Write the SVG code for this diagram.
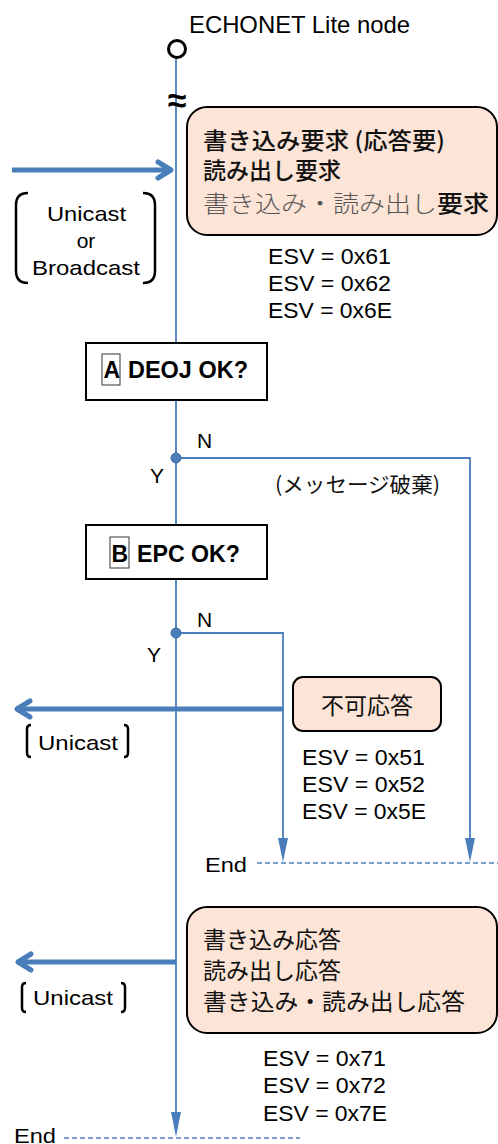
<svg xmlns="http://www.w3.org/2000/svg" width="498" height="1144" viewBox="0 0 498 1144">
<style>
.t{font-family:"Liberation Sans","Noto Sans CJK JP",sans-serif;fill:#000}
.j{font-family:"Noto Sans CJK JP","Liberation Sans",sans-serif;fill:#111}
.box{fill:#FCE4D6;stroke:#000;stroke-width:2}
.dbox{fill:#fff;stroke:#000;stroke-width:2}
.ln{fill:none;stroke:#4A7EBB;stroke-width:1.8}
.thick{fill:none;stroke:#4A7EBB;stroke-width:5}
.dash{fill:none;stroke:#4A7EBB;stroke-width:1.5;stroke-dasharray:5,3}
.br{fill:none;stroke:#000;stroke-width:2.5}
.head{fill:#4A7EBB}
</style>
<defs>
<marker id="chev" markerWidth="22" markerHeight="22" refX="20" refY="11" orient="auto" markerUnits="userSpaceOnUse" viewBox="0 0 22 22">
<path d="M6,3 L19,11 L6,19" fill="none" stroke="#4A7EBB" stroke-width="5" stroke-linecap="round" stroke-linejoin="round"/>
</marker>
</defs>

<g id="connectors">
<line class="ln" x1="176" y1="58" x2="176" y2="343"/>
<line class="ln" x1="176" y1="400" x2="176" y2="525"/>
<line class="ln" x1="176" y1="579" x2="176" y2="1114"/>
<path class="head" d="M171,1112 L181,1112 L176,1137 Z"/>
<path class="ln" d="M176,458 H470 V840"/>
<path class="head" d="M465,838 L475,838 L470,862 Z"/>
<path class="ln" d="M176,633 H283 V840"/>
<path class="head" d="M278,838 L288,838 L283,862 Z"/>
<line class="dash" x1="257" y1="863" x2="498" y2="863"/>
<line class="dash" x1="64" y1="1138" x2="300" y2="1138"/>
<line class="thick" x1="12" y1="170" x2="172" y2="170" marker-end="url(#chev)"/>
<line class="thick" x1="283" y1="709" x2="16" y2="709" marker-end="url(#chev)"/>
<line class="thick" x1="176" y1="962" x2="17" y2="962" marker-end="url(#chev)"/>
<circle cx="176" cy="458" r="5" fill="#4A7EBB" stroke="#3A6AA5" stroke-width="1"/>
<circle cx="176" cy="633" r="5" fill="#4A7EBB" stroke="#3A6AA5" stroke-width="1"/>
</g>

<g id="node-start">
<circle cx="177" cy="49" r="8.5" fill="#fff" stroke="#000" stroke-width="3"/>
<text class="t" x="189" y="33" font-size="24" textLength="221" lengthAdjust="spacingAndGlyphs">ECHONET Lite node</text>
<text class="t" x="177" y="112" font-size="34" font-weight="bold" text-anchor="middle">≈</text>
</g>

<g id="node-request">
<rect class="box" x="187" y="107" width="310" height="128" rx="20"/>
<text class="j" x="203" y="149" font-size="23" font-weight="500" textLength="242" lengthAdjust="spacingAndGlyphs">書き込み要求 (応答要)</text>
<text class="j" x="203" y="179" font-size="23" font-weight="500">読み出し要求</text>
<text class="j" x="203" y="212" font-size="23" textLength="286" lengthAdjust="spacingAndGlyphs"><tspan fill="#555" font-weight="300">書き込み・読み出し</tspan><tspan font-weight="500">要求</tspan></text>
</g>

<g id="node-unicast-broadcast">
<path class="br" d="M28,193 Q16,193 16,205 L16,271 Q16,283 28,283"/>
<path class="br" d="M143,193 Q155,193 155,205 L155,271 Q155,283 143,283"/>
<text class="t" x="47" y="221" font-size="21" textLength="79" lengthAdjust="spacingAndGlyphs">Unicast</text>
<text class="t" x="86" y="248" font-size="21" text-anchor="middle">or</text>
<text class="t" x="32" y="275" font-size="21" textLength="108" lengthAdjust="spacingAndGlyphs">Broadcast</text>
</g>

<g id="esv-request">
<text class="t" x="268" y="264" font-size="22" textLength="123" lengthAdjust="spacingAndGlyphs">ESV = 0x61</text>
<text class="t" x="268" y="291" font-size="22" textLength="123" lengthAdjust="spacingAndGlyphs">ESV = 0x62</text>
<text class="t" x="268" y="318" font-size="22" textLength="124" lengthAdjust="spacingAndGlyphs">ESV = 0x6E</text>
</g>

<g id="node-a">
<rect class="dbox" x="86" y="343" width="181" height="57"/>
<rect x="102" y="354" width="18" height="31" fill="none" stroke="#333" stroke-width="1"/>
<text class="t" x="103.5" y="378" font-size="23" font-weight="bold">A</text>
<text class="t" x="128" y="378" font-size="23" font-weight="bold" textLength="120" lengthAdjust="spacingAndGlyphs">DEOJ OK?</text>
</g>

<g id="junction-a-labels">
<text class="t" x="197" y="448" font-size="21">N</text>
<text class="t" x="150" y="483" font-size="21">Y</text>
<text class="j" x="275" y="492" font-size="21" textLength="165" lengthAdjust="spacingAndGlyphs">(メッセージ破棄)</text>
</g>

<g id="node-b">
<rect class="dbox" x="86" y="525" width="181" height="54"/>
<rect x="110" y="537" width="19" height="31" fill="none" stroke="#333" stroke-width="1"/>
<text class="t" x="111.5" y="562" font-size="23" font-weight="bold">B</text>
<text class="t" x="137" y="562" font-size="23" font-weight="bold" textLength="103" lengthAdjust="spacingAndGlyphs">EPC OK?</text>
</g>

<g id="junction-b-labels">
<text class="t" x="197" y="627" font-size="21">N</text>
<text class="t" x="147" y="662" font-size="21">Y</text>
</g>

<g id="node-reject">
<rect class="box" x="293" y="677" width="148" height="54" rx="10"/>
<text class="j" x="367" y="714" font-size="23" text-anchor="middle">不可応答</text>
</g>

<g id="node-unicast-1">
<path class="br" d="M31,725 Q27,725 27,729 L27,753 Q27,757 31,757"/>
<path class="br" d="M124,725 Q128,725 128,729 L128,753 Q128,757 124,757"/>
<text class="t" x="38" y="750" font-size="21" textLength="80" lengthAdjust="spacingAndGlyphs">Unicast</text>
</g>

<g id="esv-reject">
<text class="t" x="302" y="765" font-size="22" textLength="123" lengthAdjust="spacingAndGlyphs">ESV = 0x51</text>
<text class="t" x="302" y="792" font-size="22" textLength="123" lengthAdjust="spacingAndGlyphs">ESV = 0x52</text>
<text class="t" x="302" y="819" font-size="22" textLength="124" lengthAdjust="spacingAndGlyphs">ESV = 0x5E</text>
</g>

<g id="end-1">
<text class="t" x="205" y="872" font-size="21" textLength="42" lengthAdjust="spacingAndGlyphs">End</text>
</g>

<g id="node-response">
<rect class="box" x="187" y="907" width="310" height="126" rx="20"/>
<text class="j" x="203" y="948" font-size="23">書き込み応答</text>
<text class="j" x="203" y="979" font-size="23">読み出し応答</text>
<text class="j" x="203" y="1010" font-size="23" textLength="262" lengthAdjust="spacingAndGlyphs">書き込み・読み出し応答</text>
</g>

<g id="node-unicast-2">
<path class="br" d="M26,983 Q22,983 22,987 L22,1008 Q22,1012 26,1012"/>
<path class="br" d="M121,983 Q125,983 125,987 L125,1008 Q125,1012 121,1012"/>
<text class="t" x="33" y="1005" font-size="21" textLength="80" lengthAdjust="spacingAndGlyphs">Unicast</text>
</g>

<g id="esv-response">
<text class="t" x="263" y="1066" font-size="22" textLength="123" lengthAdjust="spacingAndGlyphs">ESV = 0x71</text>
<text class="t" x="263" y="1093" font-size="22" textLength="123" lengthAdjust="spacingAndGlyphs">ESV = 0x72</text>
<text class="t" x="263" y="1121" font-size="22" textLength="124" lengthAdjust="spacingAndGlyphs">ESV = 0x7E</text>
</g>

<g id="end-2">
<text class="t" x="14" y="1143" font-size="21" textLength="42" lengthAdjust="spacingAndGlyphs">End</text>
</g>
</svg>
